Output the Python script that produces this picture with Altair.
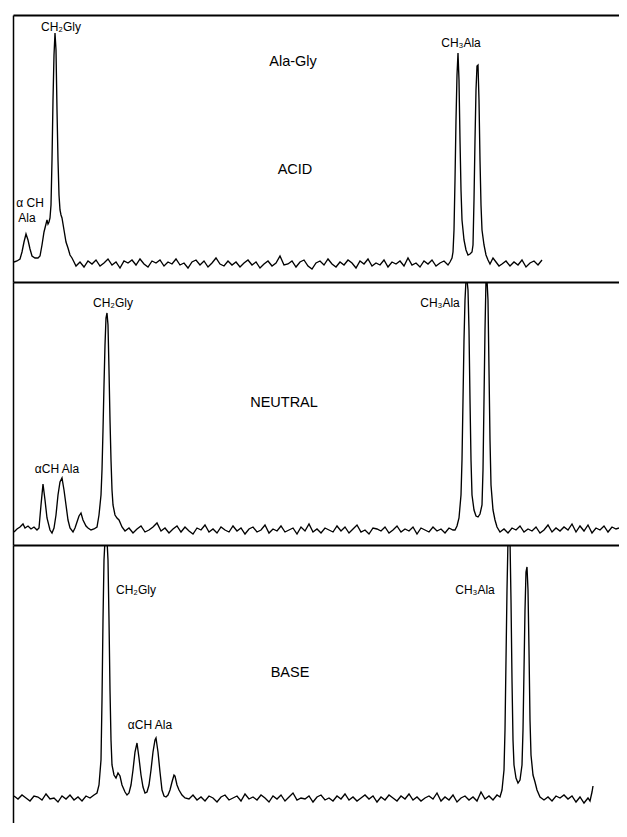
import altair as alt
import pandas as pd

# ---------------- ACID trace (x = channel, y = intensity) ----------------
acid_gly_x = [1, 4, 7, 9, 11, 13, 15, 17, 19, 22, 25, 27, 29, 31, 33, 34, 35, 36, 37, 38,
              39, 40, 41, 42, 43, 44, 45, 46, 47, 48, 49, 51, 53, 55, 57, 59, 61, 63]
acid_gly_y = [1, 2, 4, 11, 21, 29, 23, 14, 7, 5, 5, 7, 18, 31, 39, 43, 39, 41, 45, 58,
              103, 163, 208, 230, 213, 153, 103, 68, 53, 48, 45, 33, 21, 15, 8, 5, 1, -3]
acid_noise_x = [67, 71, 75, 79, 83, 87, 91, 95, 99, 103, 107, 111, 115, 119, 123, 127, 131, 135, 139, 143,
                147, 151, 155, 159, 163, 167, 171, 175, 179, 183, 187, 191, 195, 199, 203, 207, 211, 215, 219, 223,
                227, 231, 235, 239, 243, 247, 251, 255, 259, 263, 267, 271, 275, 279, 283, 287, 291, 295, 299, 303,
                307, 311, 315, 319, 323, 327, 331, 335, 339, 343, 347, 351, 355, 359, 363, 367, 371, 375, 379, 383,
                387, 391, 395, 399, 403, 407, 411, 415, 419, 423, 427, 431, 435]
acid_noise_y = [1, -4, 2, -1, 3, -3, 0, 4, -2, 1, -5, 2, 0, 3, -2, 4, -1, -4, 2, 0,
                3, -3, 1, -1, 4, -2, 0, -5, 1, 3, -2, 2, -4, 0, 5, -1, -3, 2, -2, 1,
                -4, 0, 3, -2, 1, -5, -1, 2, -3, 0, 7, -2, -1, 2, -4, 1, 3, -3, -6, 0,
                2, -2, 4, -1, -4, 1, -2, 3, 0, -5, 2, -1, 4, -3, 0, -2, 3, -4, 1, -1,
                2, -3, 5, -2, 0, -4, 2, -1, 3, -3, 0, 2, -2]
acid_ala_x = [437, 439, 440, 441, 442, 443, 444, 445, 446, 447, 448, 449, 451, 453, 455, 457, 459, 460, 461, 462,
              463, 464, 465, 466, 467, 468, 469, 471, 473, 475, 477, 480, 483, 486, 489, 493, 497, 501, 505, 509,
              513, 517, 521, 525, 529]
acid_ala_y = [1, 5, 11, 33, 83, 143, 188, 210, 183, 123, 73, 43, 23, 13, 8, 9, 11, 18, 63, 123,
              173, 197, 198, 163, 103, 58, 33, 18, 8, 3, -1, 5, 1, -3, -1, 2, -3, 1, -2, 3,
              -4, 0, 2, -2, 3]

# ---------------- NEUTRAL trace ----------------
neu_left_x = [1, 4, 7, 10, 12, 15, 18, 21, 24, 26, 28, 30, 32, 34, 37, 39, 41, 43, 45, 47,
              49, 51, 53, 55, 57, 60, 62, 64, 66, 68, 70, 73, 75, 78, 81, 84, 86, 88, 89, 90,
              91, 92, 93, 94, 95, 96, 97, 98, 99, 100, 102, 104, 106, 109, 112]
neu_left_y = [-2, 1, 3, 6, 2, 4, 1, 3, 0, 2, 25, 46, 30, 12, 0, -3, 2, 15, 35, 48,
              52, 40, 25, 10, 2, -2, 2, 8, 14, 17, 10, 4, 2, 0, 1, 3, 15, 35, 60, 100,
              145, 185, 212, 217, 205, 160, 110, 70, 40, 25, 15, 12, 10, 3, -1]
neu_noise_x = [116, 120, 124, 128, 132, 136, 140, 144, 148, 152, 156, 160, 164, 168, 172, 176, 180, 184, 188, 192,
               196, 200, 204, 208, 212, 216, 220, 224, 228, 232, 236, 240, 244, 248, 252, 256, 260, 264, 268, 272,
               276, 280, 284, 288, 292, 296, 300, 304, 308, 312, 316, 320, 324, 328, 332, 336, 340, 344, 348, 352,
               356, 360, 364, 368, 372, 376, 380, 384, 388, 392, 396, 400, 404, 408, 412, 416, 420, 424, 428, 432,
               436, 440]
neu_noise_y = [2, -3, 1, 4, -2, 0, 3, 7, -1, 2, -3, 1, 4, -2, 3, -1, -4, 2, 0, 5,
               -2, 1, -3, 3, 0, -2, 4, -1, 2, -4, 1, 3, -2, 0, 5, -3, 1, -1, 4, -2,
               0, 2, -4, 3, -1, 6, -2, 1, -3, 2, 0, -2, 4, -1, 3, -3, 1, 5, -2, 0,
               -4, 2, 1, -1, 3, -3, 0, 4, -2, 1, -1, 3, -4, 2, 0, -2, 3, -1, 1, -3,
               2, 0]
neu_ala_x = [442, 444, 446, 448, 449, 450, 451, 452, 453, 454, 455, 456, 457, 458, 459, 461, 463, 465, 467, 469,
             470, 471, 472, 473, 474, 475, 476, 477, 478, 480, 482, 484, 487]
neu_ala_y = [0, 4, 12, 35, 70, 130, 190, 230, 250, 250, 240, 200, 130, 70, 35, 20, 14, 13, 16, 25,
             60, 130, 200, 250, 250, 230, 160, 90, 45, 20, 10, 3, -2]
neu_right_x = [491, 495, 499, 503, 507, 511, 515, 519, 523, 527, 531, 535, 539, 543, 547, 551, 555, 559, 563, 567,
               571, 575, 579, 583, 587, 591, 595, 599, 603, 606]
neu_right_y = [1, -3, 2, 0, 4, -2, 1, -1, 3, -3, 0, 5, -2, 2, -1, 3, 0, 6, -2, 4,
               -1, 5, -3, 2, 0, 4, -2, 3, 1, 2]

# ---------------- BASE trace ----------------
base_left_x = [1, 5, 9, 13, 17, 21, 25, 29, 33, 37, 41, 45, 49, 53, 57, 61, 65, 69, 73, 77, 81]
base_left_y = [2, -1, 3, 0, -3, 2, 1, -2, 4, -1, 0, -4, 2, -1, 3, -2, 1, -3, 2, 0, 3]
base_gly_x = [84, 86, 88, 89, 90, 91, 92, 94, 95, 96, 97, 98, 99, 101, 103, 105, 107, 109, 112, 114,
              116, 118, 120, 122, 124, 126, 128, 130, 132, 134, 136, 138, 140, 142, 143, 145, 147, 149, 151, 153,
              155, 157, 159, 161, 162, 164, 166, 169, 172]
base_gly_y = [5, 13, 38, 98, 178, 238, 258, 258, 238, 178, 108, 58, 33, 23, 20, 25, 22, 13, 6, 3,
              5, 13, 28, 46, 55, 40, 23, 11, 5, 6, 13, 28, 46, 58, 60, 46, 26, 8, 2, 1,
              3, 8, 16, 23, 22, 13, 8, 3, 0]
base_noise_x = [176, 180, 184, 188, 192, 196, 200, 204, 208, 212, 216, 220, 224, 228, 232, 236, 240, 244, 248, 252,
                256, 260, 264, 268, 272, 276, 280, 284, 288, 292, 296, 300, 304, 308, 312, 316, 320, 324, 328, 332,
                336, 340, 344, 348, 352, 356, 360, 364, 368, 372, 376, 380, 384, 388, 392, 396, 400, 404, 408, 412,
                416, 420, 424, 428, 432, 436, 440, 444, 448, 452, 456, 460, 464, 468, 472, 476, 480, 484]
base_noise_y = [-1, 3, -2, 1, -3, 2, 0, -4, 1, 3, -2, 0, 2, -3, 4, -1, 1, -2, 3, 0,
                -4, 2, -1, 3, -3, 1, 5, -2, 0, -1, 2, -4, 1, 3, -2, 0, -3, 2, -1, 4,
                -2, 1, -3, 0, 3, -1, 2, -4, 1, -2, 3, 0, -3, 2, -1, 4, -2, 1, -3, 0,
                2, -1, 5, -3, 1, -2, 3, -4, 0, 2, -2, 1, -3, 6, -1, 2, -2, 3]
base_ala_x = [487, 489, 491, 492, 493, 494, 495, 497, 498, 499, 500, 501, 503, 505, 507, 509, 510, 511, 512, 513,
              514, 515, 516, 517, 518, 520, 522, 524, 527]
base_ala_y = [1, 8, 28, 68, 138, 208, 258, 258, 198, 118, 58, 33, 20, 15, 18, 33, 68, 128, 188, 226,
              231, 208, 148, 78, 43, 23, 16, 8, 1]
base_right_x = [531, 535, 539, 543, 547, 551, 555, 559, 563, 567, 571, 575, 577, 579, 580]
base_right_y = [-2, 1, -3, 2, 0, 3, -1, 2, -4, 1, -5, 0, -3, 6, 12]

# ---------------- Labels ----------------
acid_lab_text = ["CH\u2082Gly", "Ala-Gly", "ACID", "\u03b1 CH", "Ala", "CH\u2083Ala"]
acid_lab_x = [48, 280, 282, 17, 14, 448]
acid_lab_y = [236, 201, 93, 60, 45, 220]
neu_lab_text = ["CH\u2082Gly", "\u03b1CH Ala", "NEUTRAL", "CH\u2083Ala"]
neu_lab_x = [100, 44, 271, 427]
neu_lab_y = [227, 61, 127, 227]
base_lab_text = ["CH\u2082Gly", "\u03b1CH Ala", "BASE", "CH\u2083Ala"]
base_lab_x = [123, 137, 277, 462]
base_lab_y = [208, 73, 125, 208]
big_labels = {"Ala-Gly", "ACID", "NEUTRAL", "BASE"}

W = 606
FONT = "Liberation Sans"


def panel(xs, ys, lab_x, lab_y, lab_t, ydom, h):
    df = pd.DataFrame({"x": xs, "y": ys})
    labs = pd.DataFrame({"x": lab_x, "y": lab_y, "t": lab_t})
    labs["size"] = [14.5 if t in big_labels else 12 for t in lab_t]
    xsc = alt.Scale(domain=[0, W], nice=False, zero=False)
    ysc = alt.Scale(domain=ydom, nice=False, zero=False)
    line = alt.Chart(df).mark_line(color="black", strokeWidth=1.35, clip=True).encode(
        x=alt.X("x:Q", scale=xsc,
                axis=alt.Axis(orient="top", domainColor="black", domainWidth=2.2,
                              labels=False, ticks=False, grid=False, title=None)),
        y=alt.Y("y:Q", scale=ysc,
                axis=alt.Axis(domainColor="black", domainWidth=1.5,
                              labels=False, ticks=False, grid=False, title=None)),
    )
    text = alt.Chart(labs).mark_text(font=FONT, color="black").encode(
        x=alt.X("x:Q", scale=xsc),
        y=alt.Y("y:Q", scale=ysc),
        text="t:N",
        size=alt.Size("size:Q", scale=None, legend=None),
    )
    return alt.layer(line, text).properties(width=W, height=h)


p1 = panel(acid_gly_x + acid_noise_x + acid_ala_x,
           acid_gly_y + acid_noise_y + acid_ala_y,
           acid_lab_x, acid_lab_y, acid_lab_text, [-19, 248], 267)
p2 = panel(neu_left_x + neu_noise_x + neu_ala_x + neu_right_x,
           neu_left_y + neu_noise_y + neu_ala_y + neu_right_y,
           neu_lab_x, neu_lab_y, neu_lab_text, [-15, 248], 263)
p3 = panel(base_left_x + base_gly_x + base_noise_x + base_ala_x + base_right_x,
           base_left_y + base_gly_y + base_noise_y + base_ala_y + base_right_y,
           base_lab_x, base_lab_y, base_lab_text, [-25, 253], 278)

chart = alt.vconcat(p1, p2, p3, spacing=0).properties(
    padding={"left": 5, "top": 7, "right": 0, "bottom": 0},
    background="white",
).configure_view(stroke=None)

chart.save("out.html", embed_options={"renderer": "svg", "actions": False})
